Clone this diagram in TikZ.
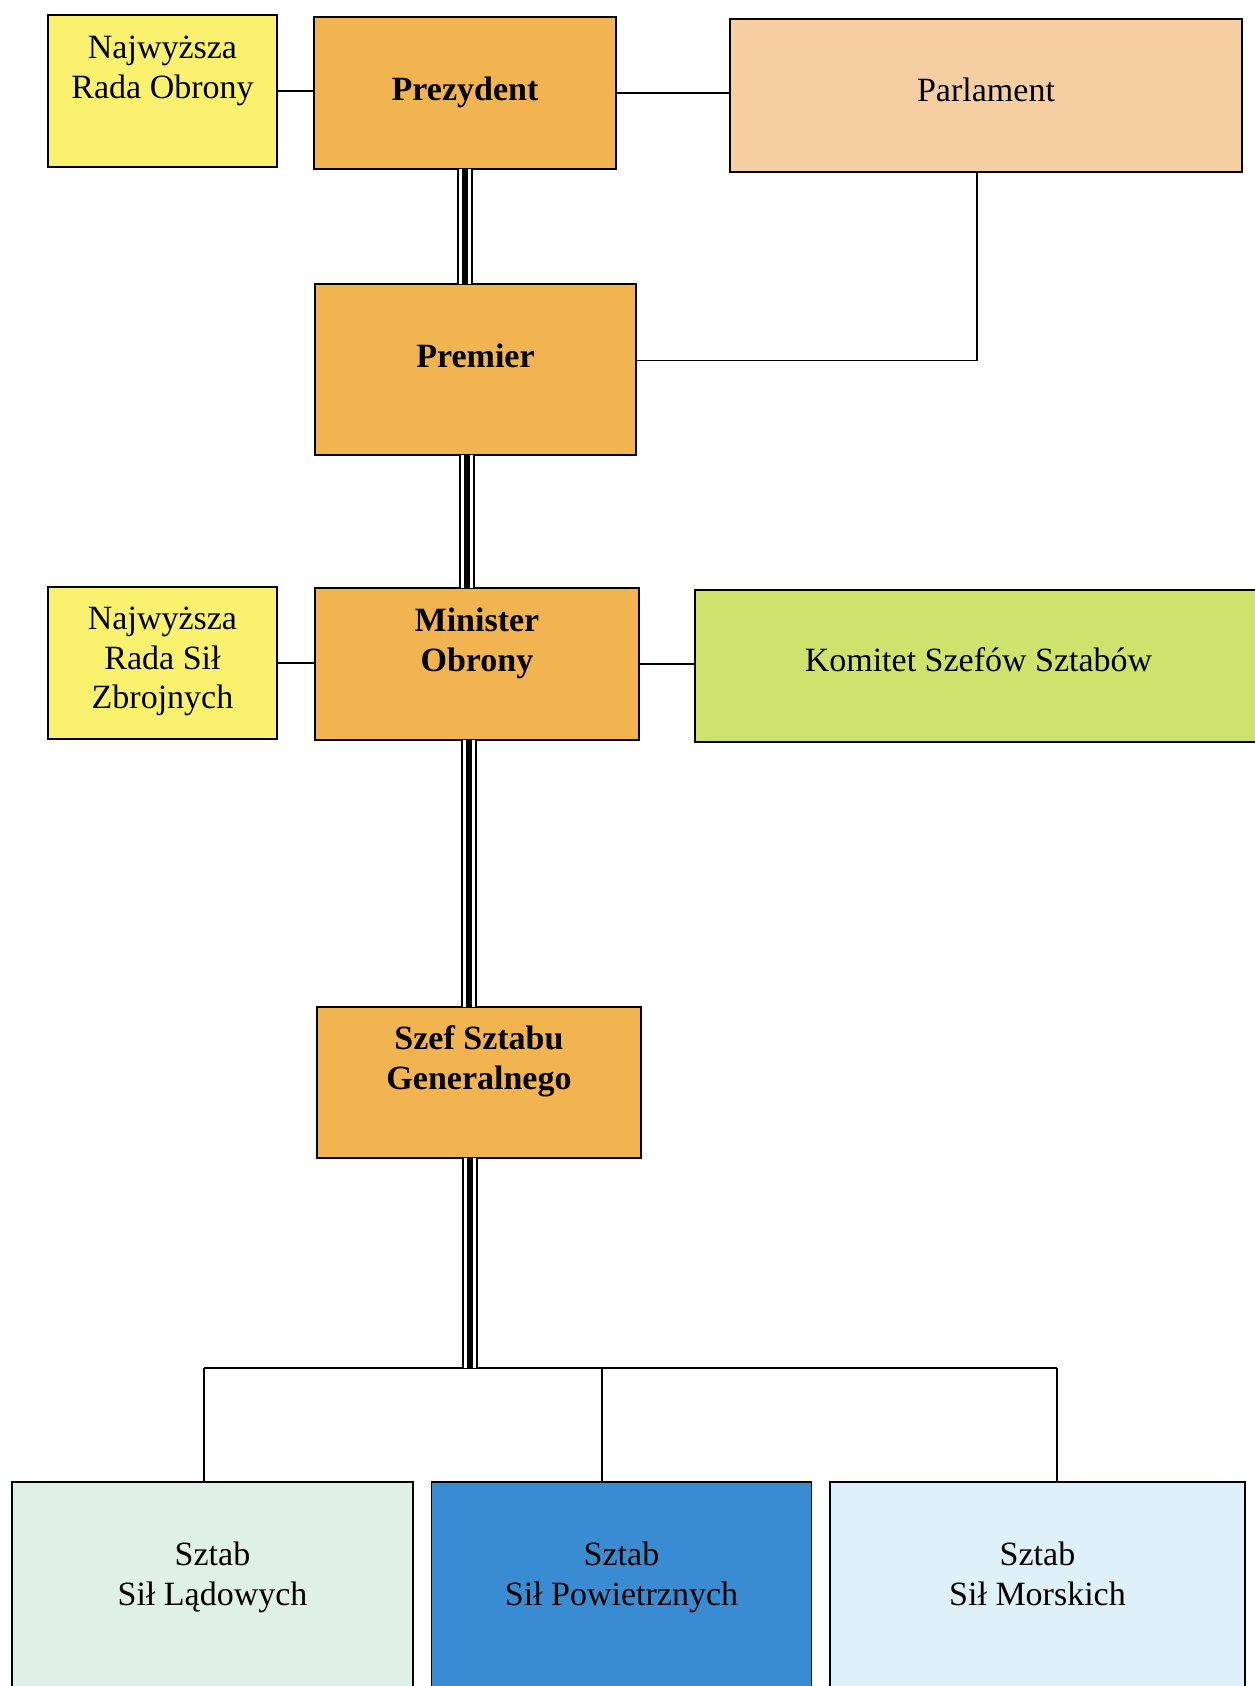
\documentclass[tikz,border=0pt]{standalone}
\usepackage{fontspec}
\setmainfont{Liberation Serif}
\definecolor{councilcolor}{RGB}{250,242,110}
\definecolor{chiefcolor}{RGB}{242,180,80}
\definecolor{parlcolor}{RGB}{245,206,162}
\definecolor{staffcolor}{RGB}{208,226,110}
\definecolor{landcolor}{RGB}{222,240,232}
\definecolor{aircolor}{RGB}{58,140,210}
\definecolor{seacolor}{RGB}{222,240,248}

\begin{document}
\begin{tikzpicture}[x=0.5pt,y=-0.5pt]
  \tikzset{BoxStyle/.style = {
    shape         = rectangle,
    draw          = black,
    line width    = 0.8pt,
    text          = black,
    inner sep     = 0pt,
    outer sep     = 0pt,
    align         = flush center,
    font          = \fontsize{17pt}{19.8pt}\selectfont
    }
  }
  \tikzset{ChiefStyle/.style = {
    BoxStyle,
    fill          = chiefcolor,
    font          = \fontsize{17pt}{19.8pt}\selectfont\bfseries
    }
  }
  \tikzset{LinkStyle/.style = {
    draw          = black,
    line width    = 0.6pt
    }
  }
  \tikzset{TrunkStyle/.style = {
    draw          = black,
    line width    = 2.6pt,
    preaction     = {draw = black, line width = 8.3pt},
    preaction     = {draw = white, line width = 6pt}
    }
  }

  \useasboundingbox (0,0) rectangle (1254,1686);

	\node[BoxStyle, fill=councilcolor, text width=114.5pt, text height=21.8pt, text depth=54.2pt](A1) at (162.5, 91) {Najwyższa\\Rada Obrony};
	\node[ChiefStyle, text width=151pt, text height=41.7pt, text depth=34.3pt](A2) at (465, 93) {Prezydent};
	\node[BoxStyle, fill=parlcolor, text width=256pt, text height=41.2pt, text depth=35.3pt](A3) at (986, 95.5) {Parlament};
	\node[ChiefStyle, text width=160.5pt, text height=41.7pt, text depth=43.8pt](B1) at (475.5, 369.5) {Premier};
	\node[BoxStyle, fill=councilcolor, text width=114.5pt, text height=21.3pt, text depth=54.7pt](C1) at (162.5, 663) {Najwyższa\\Rada Sił\\Zbrojnych};
	\node[ChiefStyle, text width=162pt, text height=21.8pt, text depth=54.2pt](C2) at (477, 664) {Minister\\Obrony};
	\node[BoxStyle, fill=staffcolor, text width=283.5pt, text height=40.7pt, text depth=35.3pt](C3) at (978.5, 666) {Komitet Szefów Sztabów};
	\node[ChiefStyle, text width=162pt, text height=21.3pt, text depth=54.2pt](D1) at (479, 1082.5) {Szef Sztabu\\Generalnego};
	\node[BoxStyle, fill=landcolor, text width=200.5pt, text height=41.8pt, text depth=87.2pt](E1) at (212.5, 1611) {Sztab\\Sił Lądowych};
	\node[BoxStyle, fill=aircolor, text width=190pt, text height=41.8pt, text depth=87.2pt](E2) at (621.5, 1611) {Sztab\\Sił Powietrznych};
	\node[BoxStyle, fill=seacolor, text width=207.5pt, text height=41.8pt, text depth=87.2pt](E3) at (1037.5, 1611) {Sztab\\Sił Morskich};

	\coordinate (F1) at (204, 1368);
	\coordinate (F2) at (602, 1368);
	\coordinate (F3) at (1057, 1368);

	\draw[LinkStyle](A1.east) to (A1.east -| A2.west);
	\draw[LinkStyle](A2.east) to (A2.east -| A3.west);
	\draw[LinkStyle]([xshift=-4.5pt]A3.south) |- ([yshift=4.5pt]B1.east);
	\draw[LinkStyle](C1.east) to (C1.east -| C2.west);
	\draw[LinkStyle](C2.east) to (C2.east -| C3.west);
	\draw[TrunkStyle](A2.south) to (A2.south |- B1.north);
	\draw[TrunkStyle]([xshift=-4.25pt]B1.south) to ([xshift=-4.25pt]B1.south |- C2.north);
	\draw[TrunkStyle]([xshift=-4pt]C2.south) to ([xshift=-4pt]C2.south |- D1.north);
	\draw[LinkStyle, line width=1pt](F1) to (F3);
	\draw[TrunkStyle]([xshift=-4.5pt]D1.south) to ([xshift=-4.5pt]D1.south |- F1);
	\draw[LinkStyle](F1) to (F1 |- E1.north);
	\draw[LinkStyle](F2) to (F2 |- E2.north);
	\draw[LinkStyle](F3) to (F3 |- E3.north);

  \end{tikzpicture}
\end{document}
